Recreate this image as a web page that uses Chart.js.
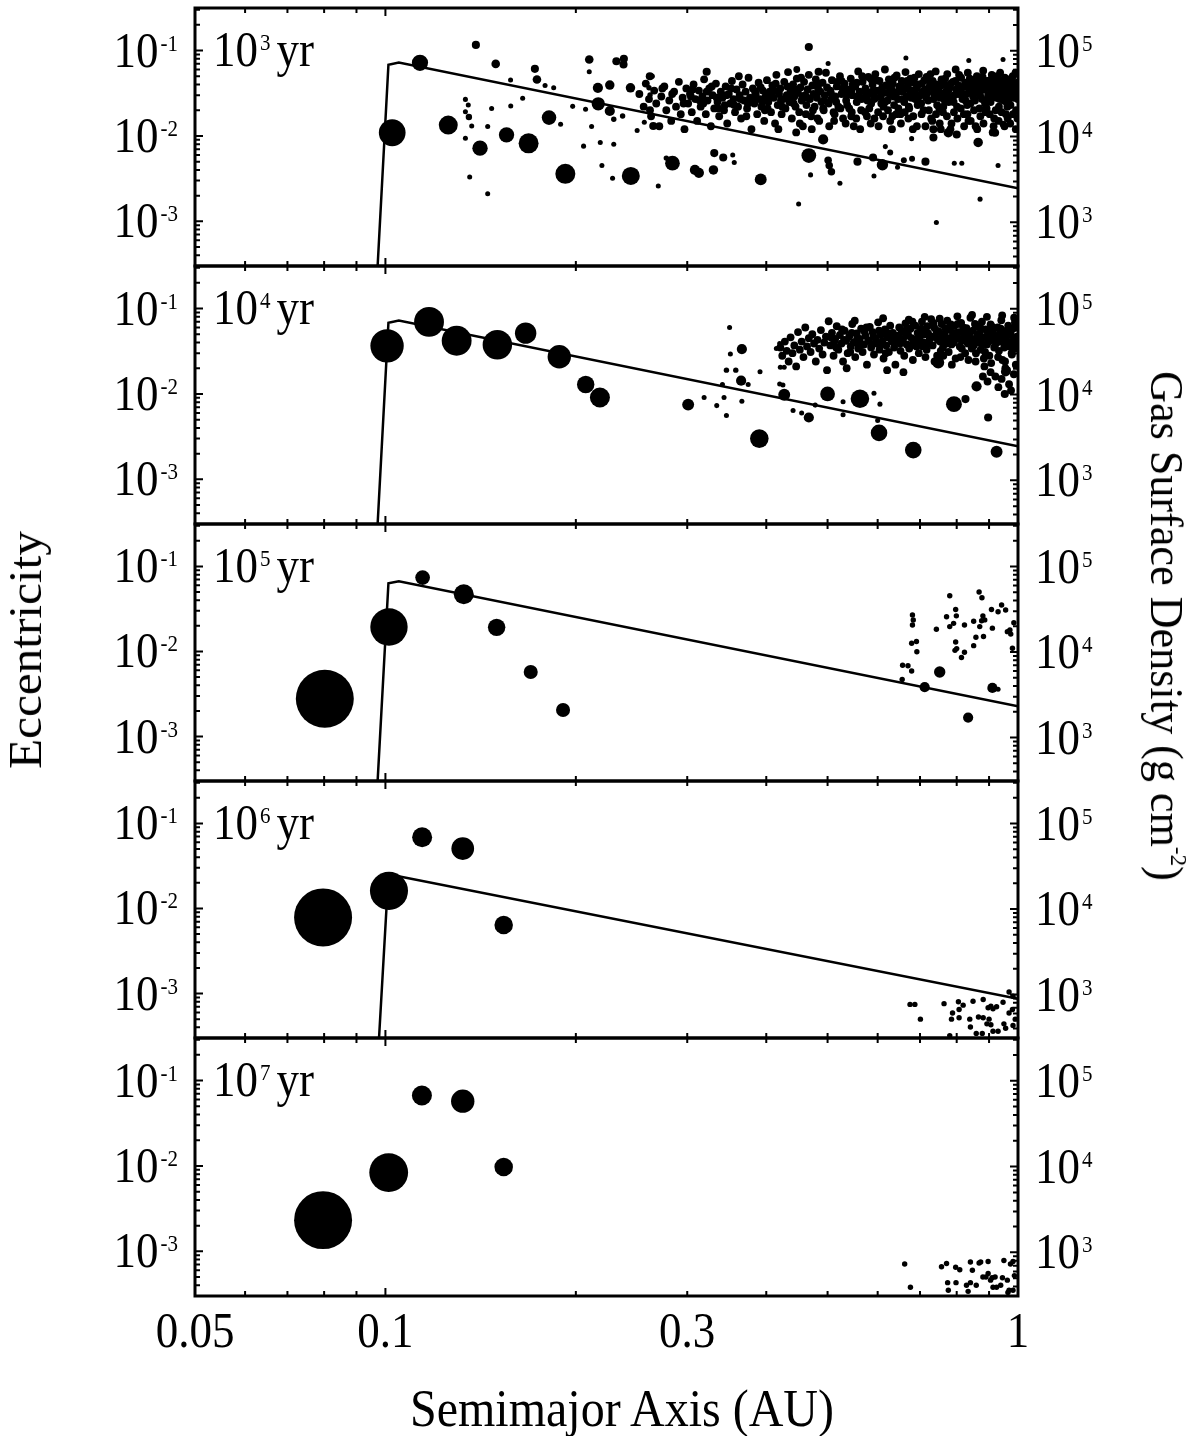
<!DOCTYPE html>
<html>
<head>
<meta charset="utf-8">
<script src="https://cdn.jsdelivr.net/npm/chart.js@4.4.1/dist/chart.umd.min.js"></script>
<style>
body{margin:0;background:#fff;width:1200px;height:1436px;position:relative;overflow:hidden;font-family:"Liberation Serif","Times New Roman",serif}
canvas{position:absolute;left:0}
.ttl{position:absolute;font-size:46px;white-space:nowrap;color:#000;line-height:1}
.ttl sup{font-size:24px;vertical-align:0;position:relative;top:-20px}
</style>
</head>
<body>
<canvas id="c0"></canvas>
<canvas id="c1"></canvas>
<canvas id="c2"></canvas>
<canvas id="c3"></canvas>
<canvas id="c4"></canvas>
<div class="ttl" style="left:26px;top:650px;transform:translate(-50%,-50%) rotate(-90deg) scaleX(1.07)">Eccentricity</div>
<div class="ttl" style="left:1166px;top:626px;transform:translate(-50%,-50%) rotate(90deg) scaleX(0.96)">Gas Surface Density (g cm<sup>-2</sup>)</div>
<div class="ttl" style="left:622px;top:1408px;font-size:48px;transform:translate(-50%,-50%) scaleY(1.1)">Semimajor Axis (AU)</div>
<script>
// time of each snapshot, 10^n yr
const ages = ['3','4','5','6','7']

const xTickVals = [0.05, 0.1, 0.3, 1]
const xTickLabels = ['0.05', '0.1', '0.3', '1']
const eccTicks = [0.1, 0.01, 0.001]
const eccTickExp = ['-1', '-2', '-3']
const sigTicks = [1e5, 1e4, 1e3]
const sigTickExp = ['5', '4', '3']

// gas surface density profile [a (AU), sigma (g cm^-2)]
const gas1 = [[0.0972,310],[0.1011,68700],[0.1050,73100],[1.0,2490]]
const gas2 = [[0.0972,310],[0.1011,68700],[0.1050,73100],[1.0,2490]]
const gas3 = [[0.0972,310],[0.1011,63800],[0.1050,67500],[1.0,2320]]
const gas4 = [[0.0977,310],[0.1011,25600],[1.0,890]]
const gas5 = []

// bodies [a (AU), e, mass (M_earth)]
const big1 = [
[0.1134,0.0718,0.4],[0.1025,0.0109,1.8],[0.1257,0.0134,0.64],[0.1411,0.0072,0.34],[0.1554,0.0103,0.34],
[0.1684,0.0082,0.75],[0.1814,0.0164,0.29],[0.1925,0.0036,0.75],[0.2170,0.0238,0.22],[0.2167,0.0366,0.1],
[0.2100,0.0785,0.06],[0.2100,0.0564,0.012],[0.1390,0.1164,0.05],[0.1494,0.0698,0.06],[0.1723,0.0611,0.05],
[0.1736,0.0458,0.06],[0.1788,0.0390,0.012],[0.1845,0.0366,0.012],[0.1577,0.0451,0.012],[0.1338,0.0268,0.012],
[0.1352,0.0230,0.012],[0.1338,0.0192,0.012],[0.1355,0.0167,0.025],[0.1369,0.0131,0.012],[0.1338,0.0094,0.012],
[0.1359,0.0033,0.012],[0.1451,0.0021,0.012],[0.1451,0.0129,0.012],[0.1472,0.0210,0.012],[0.1578,0.0224,0.012],
[0.1648,0.0276,0.012],[0.1892,0.0137,0.012],[0.1977,0.0222,0.012],[0.2072,0.0205,0.012],[0.2118,0.0129,0.012],
[0.2057,0.0076,0.012],[0.2186,0.0084,0.012],[0.2199,0.0045,0.012],
[0.467,0.110,0.05],[0.2318,0.075,0.05],[0.2382,0.080,0.05],[0.2379,0.0687,0.05],
[0.2263,0.0394,0.08],[0.244,0.0366,0.08],[0.2263,0.0196,0.1],[0.2296,0.0157,0.015],[0.2371,0.0171,0.015],
[0.2296,0.0080,0.012],[0.2286,0.0032,0.012],[0.2443,0.0034,0.55],[0.2500,0.0116,0.012],[0.2566,0.0145,0.012],
[0.2651,0.0131,0.05],[0.270,0.0026,0.012],[0.2618,0.0501,0.05],[0.264,0.050,0.015],[0.261,0.0366,0.015],
[0.262,0.0302,0.015],[0.2843,0.0048,0.3],[0.278,0.0055,0.015],[0.3085,0.0040,0.1],[0.313,0.0037,0.1],
[0.330,0.0040,0.08],[0.331,0.0063,0.05],[0.342,0.0056,0.05],[0.354,0.0060,0.012],[0.356,0.0049,0.012],
[0.392,0.0031,0.16],[0.450,0.0016,0.012],[0.467,0.0059,0.3],[0.470,0.0035,0.012],[0.492,0.0091,0.1],
[0.501,0.0052,0.04],[0.503,0.0045,0.04],[0.507,0.0038,0.04],[0.523,0.0028,0.012],[0.5575,0.0050,0.05],
[0.590,0.0056,0.05],[0.592,0.0034,0.012],[0.6105,0.0046,0.14],[0.617,0.0075,0.012],[0.628,0.0064,0.02],
[0.645,0.0043,0.012],[0.66,0.0052,0.02],[0.68,0.0054,0.02],[0.679,0.0093,0.012],[0.714,0.0050,0.05],
[0.743,0.00097,0.012],[0.793,0.0048,0.012],[0.815,0.0048,0.012],[0.871,0.00182,0.012],[0.930,0.0045,0.012],
[0.865,0.0084,0.08],[0.947,0.0785,0.012],[0.836,0.0764,0.012],[0.665,0.082,0.012],[0.501,0.0705,0.012],
[0.484,0.0564,0.05],[0.322,0.0564,0.05],[0.447,0.060,0.03],[0.735,0.0096,0.05],[0.735,0.012,0.05],
[0.776,0.0109,0.08],[0.80,0.0104,0.05],[0.92,0.0109,0.05],[0.947,0.0137,0.03]
]

// many small planetesimals [a, e]
const cloud1 = [
[0.252,0.031],[0.256,0.022],[0.258,0.041],[0.261,0.027],[0.263,0.017],[0.266,0.034],[0.268,0.024],[0.271,0.013],[0.273,0.029],[0.276,0.038],
[0.278,0.020],[0.281,0.026],[0.283,0.015],[0.286,0.033],[0.288,0.022],[0.291,0.043],[0.293,0.018],[0.295,0.028],[0.297,0.012],[0.299,0.036],
[0.301,0.024],[0.303,0.031],[0.305,0.019],[0.307,0.040],[0.309,0.027],[0.311,0.015],[0.313,0.034],[0.315,0.022],[0.317,0.029],[0.319,0.046],
[0.321,0.018],[0.323,0.026],[0.325,0.036],[0.327,0.013],[0.329,0.030],[0.331,0.021],[0.333,0.041],[0.335,0.025],[0.337,0.017],[0.339,0.033],
[0.341,0.028],[0.343,0.020],[0.345,0.038],[0.347,0.014],[0.349,0.031],[0.351,0.024],[0.353,0.044],[0.355,0.027],[0.357,0.019],[0.359,0.035],
[0.361,0.022],[0.363,0.030],[0.365,0.016],[0.367,0.040],[0.369,0.026],[0.371,0.033],[0.373,0.021],[0.375,0.048],[0.377,0.028],[0.379,0.012],
[0.381,0.036],[0.383,0.024],[0.385,0.031],[0.387,0.018],[0.389,0.042],[0.391,0.027],[0.393,0.022],[0.395,0.034],[0.397,0.015],[0.399,0.029],
[0.306,0.035],[0.318,0.024],[0.328,0.038],[0.336,0.021],[0.346,0.030],[0.356,0.023],[0.362,0.050],[0.372,0.017],[0.382,0.027],[0.392,0.037],[0.398,0.020],
[0.401,0.045],[0.403,0.025],[0.405,0.033],[0.407,0.019],[0.409,0.039],[0.411,0.028],[0.413,0.014],[0.415,0.052],[0.417,0.023],[0.419,0.031],
[0.421,0.036],[0.423,0.018],[0.425,0.027],[0.427,0.043],[0.429,0.021],[0.431,0.030],[0.433,0.056],[0.435,0.025],[0.437,0.034],[0.439,0.016],
[0.441,0.040],[0.443,0.029],[0.445,0.022],[0.447,0.047],[0.449,0.032],[0.451,0.019],[0.453,0.037],[0.455,0.026],[0.457,0.013],[0.459,0.043],
[0.461,0.030],[0.463,0.023],[0.465,0.035],[0.467,0.052],[0.469,0.027],[0.471,0.017],[0.473,0.039],[0.475,0.031],[0.477,0.022],[0.479,0.046],
[0.481,0.028],[0.483,0.036],[0.485,0.015],[0.487,0.033],[0.489,0.025],[0.491,0.042],[0.493,0.020],[0.495,0.030],[0.497,0.055],[0.499,0.037],
[0.404,0.030],[0.414,0.041],[0.424,0.022],[0.434,0.029],[0.444,0.035],[0.454,0.048],[0.464,0.028],[0.474,0.020],[0.484,0.041],[0.494,0.026],[0.418,0.012],[0.446,0.011],
[0.502,0.024],[0.505,0.034],[0.508,0.045],[0.511,0.019],[0.514,0.029],[0.517,0.038],[0.520,0.022],[0.523,0.050],[0.526,0.031],[0.529,0.016],
[0.532,0.041],[0.535,0.026],[0.538,0.035],[0.541,0.021],[0.544,0.047],[0.547,0.030],[0.550,0.013],[0.553,0.038],[0.556,0.025],[0.559,0.057],
[0.562,0.033],[0.565,0.020],[0.568,0.043],[0.571,0.028],[0.574,0.036],[0.577,0.017],[0.580,0.049],[0.583,0.031],[0.586,0.024],[0.589,0.040],
[0.592,0.027],[0.595,0.053],[0.598,0.034],[0.601,0.019],[0.604,0.044],[0.607,0.029],[0.610,0.037],[0.613,0.022],[0.616,0.060],[0.619,0.032],
[0.622,0.026],[0.625,0.046],[0.628,0.015],[0.631,0.035],[0.634,0.041],[0.637,0.023],[0.640,0.030],[0.643,0.051],[0.646,0.027],[0.649,0.038],
[0.652,0.018],[0.655,0.044],[0.658,0.033],[0.661,0.025],[0.664,0.056],[0.667,0.029],[0.670,0.039],[0.673,0.021],[0.676,0.047],[0.679,0.034],
[0.682,0.012],[0.685,0.042],[0.688,0.027],[0.691,0.036],[0.694,0.023],[0.697,0.053],
[0.507,0.027],[0.518,0.043],[0.528,0.036],[0.537,0.023],[0.548,0.040],[0.557,0.029],[0.567,0.050],[0.578,0.026],[0.588,0.033],[0.597,0.045],
[0.608,0.024],[0.618,0.039],[0.627,0.031],[0.638,0.048],[0.647,0.021],[0.657,0.037],[0.668,0.044],[0.678,0.028],[0.687,0.031],[0.696,0.040],
[0.512,0.015],[0.545,0.017],[0.585,0.014],[0.633,0.017],[0.671,0.016],
[0.701,0.030],[0.705,0.041],[0.709,0.020],[0.713,0.035],[0.717,0.049],[0.721,0.026],[0.725,0.038],[0.729,0.016],[0.733,0.044],[0.737,0.031],
[0.741,0.057],[0.745,0.023],[0.749,0.036],[0.753,0.028],[0.757,0.046],[0.761,0.019],[0.765,0.040],[0.769,0.033],[0.773,0.053],[0.777,0.025],
[0.781,0.037],[0.785,0.014],[0.789,0.043],[0.793,0.030],[0.797,0.060],[0.801,0.022],[0.805,0.039],[0.809,0.034],[0.813,0.048],[0.817,0.027],
[0.821,0.018],[0.825,0.042],[0.829,0.031],[0.833,0.055],[0.837,0.036],[0.841,0.024],[0.845,0.045],[0.849,0.029],[0.853,0.038],[0.857,0.013],
[0.861,0.050],[0.865,0.033],[0.869,0.021],[0.873,0.041],[0.877,0.027],[0.881,0.058],[0.885,0.035],[0.889,0.019],[0.893,0.044],[0.897,0.030],
[0.901,0.039],[0.905,0.025],[0.909,0.052],[0.913,0.034],[0.917,0.016],[0.921,0.046],[0.925,0.028],[0.929,0.037],[0.933,0.022],[0.937,0.055],
[0.941,0.032],[0.945,0.041],[0.949,0.026],[0.953,0.048],[0.957,0.018],[0.961,0.036],[0.965,0.030],[0.969,0.044],[0.973,0.023],[0.977,0.039],
[0.981,0.050],[0.985,0.028],[0.989,0.034],[0.993,0.020],[0.997,0.042],
[0.703,0.024],[0.711,0.045],[0.719,0.032],[0.727,0.053],[0.735,0.027],[0.743,0.040],[0.751,0.021],[0.759,0.031],[0.767,0.047],[0.775,0.029],
[0.783,0.041],[0.791,0.025],[0.799,0.035],[0.807,0.052],[0.815,0.031],[0.823,0.038],[0.831,0.023],[0.839,0.047],[0.847,0.033],[0.855,0.026],
[0.863,0.040],[0.871,0.030],[0.879,0.049],[0.887,0.024],[0.895,0.037],[0.903,0.045],[0.911,0.029],[0.919,0.036],[0.927,0.050],[0.935,0.027],
[0.943,0.035],[0.951,0.043],[0.959,0.025],[0.967,0.038],[0.975,0.047],[0.983,0.031],[0.991,0.055],[0.999,0.027],[0.755,0.012],[0.835,0.015],
[0.915,0.013],[0.963,0.016],
[0.452,0.014],[0.462,0.018],[0.472,0.012],[0.482,0.016],[0.492,0.021],[0.503,0.013],[0.513,0.018],[0.524,0.021],[0.534,0.014],[0.546,0.019],
[0.555,0.016],[0.563,0.012],[0.573,0.019],[0.582,0.021],[0.593,0.016],[0.602,0.013],[0.612,0.017],[0.623,0.020],[0.632,0.012],[0.642,0.018],
[0.653,0.014],[0.662,0.019],[0.672,0.022],[0.683,0.017],[0.692,0.013],
[0.704,0.018],[0.714,0.013],[0.723,0.020],[0.732,0.015],[0.742,0.018],[0.752,0.014],[0.762,0.022],[0.772,0.017],[0.782,0.012],[0.792,0.019],
[0.802,0.016],[0.812,0.021],[0.822,0.013],[0.832,0.018],[0.842,0.015],[0.852,0.020],[0.862,0.012],[0.872,0.017],[0.882,0.014],[0.892,0.021],
[0.902,0.018],[0.912,0.011],[0.922,0.020],[0.932,0.015],[0.942,0.019],[0.952,0.013],[0.962,0.022],[0.972,0.014],[0.982,0.018],[0.992,0.012],[0.998,0.016],
[0.706,0.033],[0.716,0.028],[0.726,0.042],[0.736,0.035],[0.746,0.030],[0.756,0.039],[0.766,0.026],[0.776,0.034],[0.786,0.028],[0.796,0.044],
[0.806,0.031],[0.816,0.037],[0.826,0.026],[0.836,0.041],[0.846,0.038],[0.856,0.032],[0.866,0.046],[0.876,0.035],[0.886,0.042],[0.896,0.026],
[0.906,0.032],[0.916,0.040],[0.926,0.033],[0.936,0.044],[0.946,0.030],[0.956,0.034],[0.966,0.026],[0.976,0.033],[0.986,0.040],[0.996,0.035],
[0.506,0.032],[0.516,0.025],[0.526,0.044],[0.536,0.030],[0.546,0.035],[0.556,0.042],[0.566,0.027],[0.576,0.032],[0.586,0.046],[0.596,0.028],
[0.606,0.034],[0.616,0.025],[0.626,0.038],[0.636,0.029],[0.646,0.033],[0.656,0.027],[0.666,0.036],[0.676,0.031],[0.686,0.048],[0.696,0.025],
[0.262,0.020],[0.274,0.036],[0.284,0.031],[0.296,0.024],[0.304,0.029],[0.314,0.026],[0.322,0.033],[0.334,0.028],[0.344,0.023],[0.352,0.036],
[0.364,0.027],[0.374,0.024],[0.384,0.033],[0.394,0.025],[0.402,0.021],[0.412,0.034],[0.422,0.026],[0.432,0.038],[0.442,0.024],[0.456,0.029]
]

const big2 = [
[0.1006,0.0366,3.5],[0.1172,0.0698,2.5],[0.1296,0.0420,2.5],[0.1503,0.0377,2.4],[0.1666,0.0515,0.92],
[0.1883,0.0273,1.2],[0.2073,0.0129,0.5],[0.2183,0.0091,0.75],[0.301,0.0075,0.16],[0.390,0.0030,0.6],
[0.427,0.0098,0.16],[0.467,0.0053,0.1],[0.500,0.0100,0.3],[0.5625,0.0088,0.6],[0.603,0.0035,0.43],
[0.683,0.0022,0.43],[0.792,0.0076,0.38],[0.925,0.0021,0.16],[0.860,0.0123,0.1],[0.897,0.0053,0.05],
[0.826,0.0087,0.05],[0.956,0.0182,0.08],[0.953,0.0100,0.05],[0.99,0.0366,0.05],[0.748,0.0234,0.16],
[0.365,0.0143,0.1],[0.366,0.0335,0.1],[0.350,0.060,0.012],[0.351,0.0293,0.012],[0.346,0.019,0.015],
[0.358,0.019,0.015],[0.3745,0.0129,0.012],[0.391,0.0182,0.012],[0.366,0.0082,0.012],[0.346,0.0056,0.012],
[0.334,0.0073,0.012],[0.343,0.0091,0.012],[0.341,0.0129,0.012],[0.319,0.0091,0.012],[0.441,0.0064,0.012],
[0.455,0.0060,0.012],[0.478,0.0074,0.012],[0.529,0.0057,0.012],[0.600,0.0049,0.012],[0.605,0.0076,0.012],
[0.592,0.0102,0.012],[0.529,0.0081,0.012],[0.420,0.0131,0.012],[0.425,0.0127,0.012],[0.415,0.034,0.012],
[0.42,0.039,0.012],[0.421,0.0205,0.012],[0.427,0.0205,0.012]
]

const cloud2 = [
[0.421,0.035],[0.424,0.028],[0.428,0.041],[0.431,0.032],[0.434,0.024],[0.437,0.046],[0.440,0.030],[0.443,0.037],[0.446,0.021],[0.449,0.053],
[0.452,0.033],[0.455,0.041],[0.458,0.027],[0.461,0.060],[0.464,0.036],[0.467,0.045],[0.470,0.031],[0.473,0.050],[0.476,0.039],[0.479,0.024],
[0.482,0.043],[0.485,0.034],[0.488,0.056],[0.491,0.029],[0.494,0.040],[0.497,0.047],[0.499,0.019],
[0.502,0.071],[0.505,0.037],[0.508,0.052],[0.511,0.028],[0.514,0.044],[0.517,0.062],[0.520,0.033],[0.523,0.049],[0.526,0.039],[0.529,0.024],
[0.532,0.055],[0.535,0.042],[0.538,0.030],[0.541,0.047],[0.544,0.036],[0.547,0.066],[0.550,0.040],[0.553,0.027],[0.556,0.051],[0.559,0.034],
[0.562,0.044],[0.565,0.058],[0.568,0.031],[0.571,0.038],[0.574,0.048],[0.577,0.022],[0.580,0.042],[0.583,0.061],[0.586,0.035],[0.589,0.053],
[0.592,0.029],[0.595,0.045],[0.598,0.039],[0.601,0.069],[0.604,0.033],[0.607,0.049],[0.610,0.041],[0.613,0.026],[0.616,0.057],[0.619,0.037],
[0.622,0.046],[0.625,0.031],[0.628,0.063],[0.631,0.043],[0.634,0.052],[0.637,0.035],[0.640,0.022],[0.643,0.048],[0.646,0.040],[0.649,0.060],
[0.652,0.032],[0.655,0.054],[0.658,0.044],[0.661,0.028],[0.664,0.067],[0.667,0.038],[0.670,0.050],[0.673,0.034],[0.676,0.058],[0.679,0.045],
[0.682,0.025],[0.685,0.041],[0.688,0.063],[0.691,0.036],[0.694,0.052],[0.697,0.030],
[0.512,0.040],[0.527,0.057],[0.543,0.031],[0.557,0.045],[0.572,0.054],[0.588,0.038],[0.603,0.055],[0.618,0.030],[0.633,0.041],[0.648,0.047],
[0.663,0.055],[0.678,0.037],[0.693,0.044],[0.536,0.020],[0.621,0.019],[0.659,0.018],
[0.701,0.048],[0.705,0.070],[0.709,0.040],[0.713,0.057],[0.717,0.033],[0.721,0.051],[0.725,0.044],[0.729,0.075],[0.733,0.037],[0.737,0.060],
[0.741,0.046],[0.745,0.028],[0.749,0.054],[0.753,0.041],[0.757,0.066],[0.761,0.035],[0.765,0.050],[0.769,0.043],[0.773,0.072],[0.777,0.031],
[0.781,0.056],[0.785,0.038],[0.789,0.048],[0.793,0.063],[0.797,0.026],[0.801,0.045],[0.805,0.053],[0.809,0.036],[0.813,0.068],[0.817,0.042],
[0.821,0.050],[0.825,0.030],[0.829,0.059],[0.833,0.039],[0.837,0.047],[0.841,0.078],[0.845,0.034],[0.849,0.055],[0.853,0.044],[0.857,0.024],
[0.861,0.062],[0.865,0.040],[0.869,0.051],[0.873,0.033],[0.877,0.070],[0.881,0.046],[0.885,0.021],[0.889,0.057],[0.893,0.038],[0.897,0.049],
[0.901,0.028],[0.905,0.065],[0.909,0.043],[0.913,0.054],[0.917,0.035],[0.921,0.016],[0.925,0.047],[0.929,0.060],[0.933,0.032],[0.937,0.041],
[0.941,0.073],[0.945,0.025],[0.949,0.052],[0.953,0.038],[0.957,0.045],[0.961,0.019],[0.965,0.063],[0.969,0.036],[0.973,0.049],[0.977,0.030],
[0.981,0.058],[0.985,0.042],[0.989,0.069],[0.993,0.034],[0.997,0.047],
[0.707,0.036],[0.719,0.062],[0.731,0.047],[0.743,0.055],[0.755,0.032],[0.767,0.059],[0.779,0.045],[0.791,0.040],[0.803,0.066],[0.815,0.034],
[0.827,0.044],[0.839,0.052],[0.851,0.037],[0.863,0.048],[0.875,0.058],[0.887,0.031],[0.899,0.041],[0.911,0.061],[0.923,0.039],[0.935,0.050],
[0.947,0.044],[0.959,0.055],[0.971,0.040],[0.983,0.036],[0.995,0.060],[0.895,0.014],[0.931,0.012],[0.975,0.011],[0.955,0.020],
[0.506,0.046],[0.516,0.035],[0.531,0.043],[0.546,0.052],[0.561,0.037],[0.576,0.060],[0.591,0.047],[0.606,0.038],[0.621,0.052],[0.636,0.045],
[0.651,0.039],[0.666,0.048],[0.681,0.070],[0.696,0.041],
[0.703,0.058],[0.711,0.050],[0.723,0.039],[0.735,0.068],[0.747,0.043],[0.759,0.049],[0.771,0.039],[0.783,0.065],[0.795,0.052],[0.807,0.044],
[0.819,0.060],[0.831,0.048],[0.843,0.041],[0.855,0.066],[0.867,0.044],[0.879,0.038],[0.891,0.047],[0.903,0.055],[0.915,0.047],[0.927,0.042],
[0.939,0.058],[0.951,0.035],[0.963,0.050],[0.975,0.056],[0.987,0.045],[0.999,0.040],
[0.712,0.080],[0.752,0.076],[0.802,0.081],[0.846,0.084],[0.893,0.080],[0.944,0.083],[0.986,0.078],[0.672,0.074],[0.612,0.077],[0.552,0.072],
[0.714,0.027],[0.738,0.024],[0.762,0.028],[0.786,0.022],[0.811,0.027],[0.835,0.025],[0.858,0.030],[0.883,0.026],[0.907,0.023],[0.930,0.027],
[0.954,0.024],[0.978,0.029],[0.992,0.022],[0.880,0.016],[0.905,0.018],[0.942,0.015],[0.968,0.013],[0.985,0.017]
]

const big3 = [
[0.0802,0.00278,18.3],[0.1013,0.0194,4.9],[0.1145,0.0738,0.3],[0.1330,0.0471,0.75],[0.1499,0.0192,0.5],
[0.1697,0.00574,0.26],[0.1909,0.00205,0.26],[0.712,0.0038,0.1],[0.752,0.00574,0.14],[0.834,0.00167,0.1],
[0.911,0.00373,0.1],[0.93,0.0036,0.012]
]
const small3 = [
[0.656,0.00467],[0.657,0.00687],[0.670,0.0068],[0.679,0.0059],[0.681,0.0268],[0.683,0.0234],[0.681,0.0205],[0.679,0.0125],
[0.691,0.0131],[0.692,0.0099],[0.743,0.0182],[0.780,0.0451],[0.771,0.0256],[0.780,0.0196],[0.791,0.0214],[0.799,0.0262],
[0.797,0.0312],[0.797,0.0129],[0.795,0.0103],[0.80,0.0108],[0.814,0.0085],[0.823,0.0098],[0.823,0.0205],[0.851,0.0117],
[0.851,0.0226],[0.858,0.0147],[0.870,0.0196],[0.880,0.0262],[0.868,0.0501],[0.877,0.0427],[0.876,0.0230],[0.886,0.0235],
[0.882,0.0150],[0.908,0.0312],[0.911,0.0188],[0.930,0.0293],[0.942,0.0351],[0.956,0.0307],[0.962,0.0171],[0.971,0.0179],
[0.985,0.0218],[0.980,0.0109],[0.974,0.016]
]

const big4 = [
[0.0797,0.00785,18.3],[0.1013,0.0161,5.2],[0.1143,0.0687,0.75],[0.1325,0.0506,1.1],[0.1538,0.00638,0.6]
]
const small4 = [
[0.675,0.000745],[0.687,0.000745],[0.701,0.0005],[0.764,0.00076],[0.805,0.0008],[0.788,0.00059],[0.785,0.0005],[0.807,0.00065],
[0.807,0.00052],[0.819,0.00073],[0.839,0.0005],[0.841,0.000405],[0.849,0.00081],[0.866,0.00053],[0.881,0.00085],[0.881,0.00052],
[0.897,0.00068],[0.906,0.00071],[0.913,0.00066],[0.925,0.0007],[0.9,0.0005],[0.906,0.00043],[0.893,0.00044],[0.859,0.00034],
[0.878,0.00034],[0.913,0.00036],[0.93,0.00036],[0.947,0.00079],[0.95,0.00044],[0.956,0.00039],[0.968,0.00059],[0.98,0.00065],
[0.982,0.00042],[0.99,0.0005],[0.968,0.00104],[0.982,0.00093],[0.78,0.00032]
]

const big5 = [
[0.0797,0.00232,18.3],[0.1012,0.00836,5.5],[0.1142,0.0668,0.75],[0.1325,0.0574,1.2],[0.1538,0.00973,0.6]
]
const small5 = [
[0.662,0.00071],[0.676,0.00038],[0.757,0.00066],[0.771,0.00072],[0.774,0.00043],[0.776,0.00035],[0.797,0.00065],[0.809,0.00061],
[0.798,0.00043],[0.829,0.0004],[0.834,0.00034],[0.841,0.00075],[0.847,0.0006],[0.841,0.00043],[0.859,0.0004],[0.868,0.00073],
[0.873,0.00075],[0.897,0.00076],[0.88,0.0005],[0.89,0.0005],[0.897,0.00055],[0.91,0.00049],[0.92,0.0005],[0.905,0.00046],
[0.913,0.00038],[0.925,0.00038],[0.939,0.0004],[0.95,0.00078],[0.945,0.00049],[0.962,0.00046],[0.968,0.00035],[0.973,0.00071],
[0.982,0.00076],[0.987,0.00052],[0.982,0.00035],[0.964,0.00033]
]

const CLOUD_M = 0.045
const SMALL_M = 0.015

const tops = [8, 266, 524, 781, 1038]
const bottoms = [266, 524, 781, 1038, 1296]
const STRETCH = 1.14
const FONT = '"Liberation Serif", "Times New Roman", serif'

function rad(m){ return 11*Math.cbrt(m) }

function supText(ctx, base, sup, x, y, align, size, supSize){
  size = size || 45; supSize = supSize || 21
  ctx.font = size + 'px ' + FONT
  const wb = ctx.measureText(base).width
  ctx.font = supSize + 'px ' + FONT
  const ws = ctx.measureText(sup).width
  const x0 = align == 'right' ? x - wb - ws - 2 : x
  ctx.save()
  ctx.translate(0, y)
  ctx.scale(1, STRETCH)
  ctx.textAlign = 'left'
  ctx.textBaseline = 'alphabetic'
  ctx.font = size + 'px ' + FONT
  ctx.fillText(base, x0, 0)
  ctx.font = supSize + 'px ' + FONT
  ctx.fillText(sup, x0 + wb + 2, -14)
  ctx.restore()
  return x0 + wb + 2 + ws
}

const frame = {
  id: 'frame',
  afterDatasetsDraw(chart, args, opts){
    const ctx = chart.ctx, A = chart.chartArea
    const xs = chart.scales.x, ys = chart.scales.y, ys2 = chart.scales.y2
    ctx.save()
    ctx.strokeStyle = '#000'
    ctx.fillStyle = '#000'
    ctx.lineWidth = 2
    ctx.beginPath()
    // x ticks, top and bottom, inward
    for (let d = -2; d <= 0; d++){
      for (let k = 1; k <= 9; k++){
        const v = k*Math.pow(10, d)
        if (v <= 0.05 || v >= 1) continue
        const px = xs.getPixelForValue(v)
        const len = k == 1 ? 8 : 5
        ctx.moveTo(px, A.top); ctx.lineTo(px, A.top + len)
        ctx.moveTo(px, A.bottom); ctx.lineTo(px, A.bottom - len)
      }
    }
    // y ticks left (eccentricity) and right (gas density)
    for (let d = -4; d <= 0; d++){
      for (let k = 1; k <= 9; k++){
        const v = k*Math.pow(10, d)
        if (v < ys.min || v > ys.max) continue
        const py = ys.getPixelForValue(v)
        const len = k == 1 ? 8 : 5
        ctx.moveTo(A.left, py); ctx.lineTo(A.left + len, py)
      }
    }
    for (let d = 2; d <= 6; d++){
      for (let k = 1; k <= 9; k++){
        const v = k*Math.pow(10, d)
        if (v < ys2.min || v > ys2.max) continue
        const py = ys2.getPixelForValue(v)
        const len = k == 1 ? 8 : 5
        ctx.moveTo(A.right, py); ctx.lineTo(A.right - len, py)
      }
    }
    ctx.stroke()
    ctx.lineWidth = 3
    ctx.strokeRect(A.left, A.top, A.right - A.left, A.bottom - A.top)

    eccTicks.forEach((v, i) => {
      supText(ctx, '10', eccTickExp[i], 178, ys.getPixelForValue(v) + 16, 'right')
    })
    sigTicks.forEach((v, i) => {
      supText(ctx, '10', sigTickExp[i], 1035, ys2.getPixelForValue(v) + 16, 'left')
    })
    // snapshot time
    const end = supText(ctx, '10', opts.age, 213, A.top + 58, 'left')
    ctx.save()
    ctx.translate(0, A.top + 58); ctx.scale(1, STRETCH)
    ctx.font = '45px ' + FONT
    ctx.fillText('yr', end + 6, 0)
    ctx.restore()

    if (opts.xLabels){
      ctx.save()
      ctx.textAlign = 'center'
      ctx.font = '45px ' + FONT
      xTickVals.forEach((v, i) => {
        const px = xs.getPixelForValue(v)
        ctx.save()
        ctx.translate(px, A.bottom + 51); ctx.scale(1, STRETCH)
        ctx.fillText(xTickLabels[i], 0, 0)
        ctx.restore()
      })
      ctx.restore()
    }
    ctx.restore()
  }
}

const panels = [
  {gas: gas1, pts: big1.concat(cloud1.map(p => [p[0], p[1], CLOUD_M]))},
  {gas: gas2, pts: big2.concat(cloud2.map(p => [p[0], p[1], CLOUD_M]))},
  {gas: gas3, pts: big3.concat(small3.map(p => [p[0], p[1], SMALL_M]))},
  {gas: gas4, pts: big4.concat(small4.map(p => [p[0], p[1], SMALL_M]))},
  {gas: gas5, pts: big5.concat(small5.map(p => [p[0], p[1], SMALL_M]))}
]

const PAD = 14
panels.forEach((p, i) => {
  const cv = document.getElementById('c' + i)
  const last = i == panels.length - 1
  const h = bottoms[i] - tops[i]
  const padBottom = last ? PAD + 80 : PAD
  cv.width = 1200
  cv.height = h + PAD + padBottom
  cv.style.top = (tops[i] - PAD) + 'px'

  new Chart(cv, {
    type: 'scatter',
    data: {
      datasets: [
        {
          type: 'line',
          data: p.gas.map(g => ({x: g[0], y: g[1]})),
          yAxisID: 'y2',
          borderColor: '#000',
          borderWidth: 2.5,
          pointRadius: 0,
          fill: false,
          tension: 0,
          clip: 0
        },
        {
          data: p.pts.map(q => ({x: q[0], y: q[1], m: q[2]})),
          yAxisID: 'y',
          backgroundColor: '#000',
          borderWidth: 0,
          pointRadius: c => rad(c.raw.m),
          clip: 0
        }
      ]
    },
    options: {
      responsive: false,
      animation: false,
      events: [],
      layout: {autoPadding: false, padding: {left: 195, right: 182, top: PAD, bottom: padBottom}},
      plugins: {
        legend: {display: false},
        tooltip: {enabled: false},
        frame: {age: ages[i], xLabels: last}
      },
      scales: {
        x: {type: 'logarithmic', min: 0.05, max: 1, display: false},
        y: {type: 'logarithmic', position: 'left', min: 3.1e-4, max: 0.315, display: false},
        y2: {type: 'logarithmic', position: 'right', min: 310, max: 3.15e5, display: false}
      }
    },
    plugins: [frame]
  })
})
</script>
</body>
</html>
